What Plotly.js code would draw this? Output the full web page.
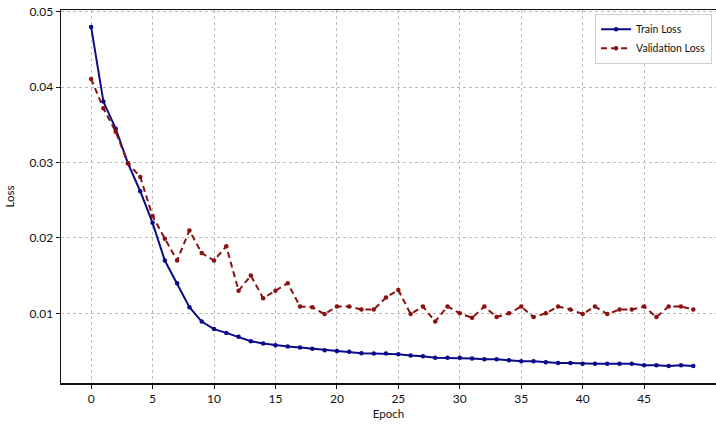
<!DOCTYPE html>
<html>
<head>
<meta charset="utf-8">
<script src="https://cdn.plot.ly/plotly-3.0.1.min.js"></script>
<style>html,body{margin:0;padding:0;background:#fff;}#chart{width:716px;height:424px;}</style>
</head>
<body>
<div id="chart"></div>
<script>
const epochs = Array.from({length: 50}, (_, i) => i);
const trainLoss = [
  0.0480, 0.0381, 0.0345, 0.0299, 0.0262, 0.0220, 0.0170, 0.0140, 0.0108, 0.0089,
  0.0079, 0.0074, 0.0069, 0.0063, 0.0060, 0.00575, 0.0056, 0.00545, 0.0053, 0.0051,
  0.0050, 0.0049, 0.0047, 0.00465, 0.00465, 0.00456, 0.0044, 0.0043, 0.0041, 0.0041,
  0.0041, 0.0040, 0.0039, 0.0039, 0.00376, 0.00363, 0.00363, 0.0035, 0.0034, 0.0034,
  0.0033, 0.0033, 0.0033, 0.0033, 0.0033, 0.0031, 0.0031, 0.0030, 0.0031, 0.0030
];
const valLoss = [
  0.0411, 0.0372, 0.0341, 0.0299, 0.0281, 0.0229, 0.0199, 0.0170, 0.0210, 0.0180,
  0.0170, 0.0189, 0.0130, 0.0150, 0.0120, 0.0130, 0.0140, 0.0109, 0.0108, 0.0099,
  0.0109, 0.0109, 0.0105, 0.0105, 0.0121, 0.0131, 0.0099, 0.0109, 0.0089, 0.0109,
  0.0100, 0.0094, 0.0109, 0.0095, 0.0100, 0.0109, 0.0095, 0.0100, 0.0109, 0.0105,
  0.0099, 0.0109, 0.0099, 0.0105, 0.0105, 0.0109, 0.0095, 0.0109, 0.0109, 0.0105
];
const xTicks = [0, 5, 10, 15, 20, 25, 30, 35, 40, 45];
const yTicks = [0.01, 0.02, 0.03, 0.04, 0.05];

const fontFam = 'Lato, "Noto Sans", sans-serif';
const traces = [
  {
    x: epochs, y: trainLoss, name: 'Train Loss', type: 'scatter', mode: 'lines+markers',
    line: {color: '#0a0a8a', width: 2},
    marker: {color: '#0a0a8a', size: 4.5}
  },
  {
    x: epochs, y: valLoss, name: 'Validation Loss', type: 'scatter', mode: 'lines+markers',
    line: {color: '#8b1010', width: 2, dash: '6px,4px'},
    marker: {color: '#8b1010', size: 4.5}
  }
];
const layout = {
  width: 716, height: 424,
  margin: {l: 61, r: 0, t: 10, b: 41},
  paper_bgcolor: '#fff', plot_bgcolor: '#fff',
  font: {family: fontFam, color: '#111', size: 12},
  showlegend: true,
  legend: {
    x: 0.994, y: 0.99, xanchor: 'right', yanchor: 'top',
    bgcolor: '#fff', bordercolor: '#d0d0d0', borderwidth: 1,
    font: {size: 10.5, family: fontFam},
    tracegroupgap: 0, itemwidth: 30
  },
  xaxis: {
    range: [-2.45, 50.85],
    tickvals: xTicks, ticktext: xTicks.map(String),
    showline: true, linecolor: '#111', linewidth: 1.5, mirror: true,
    ticks: 'outside', ticklen: 4, tickcolor: '#111',
    showgrid: true, gridcolor: '#bbbbbb', griddash: 'dot', gridwidth: 1,
    zeroline: false,
    title: {text: 'Epoch', font: {size: 11.5}, standoff: 5},
    tickfont: {size: 12}
  },
  yaxis: {
    range: [0.00075, 0.05025],
    tickvals: yTicks, ticktext: yTicks.map(v => v.toFixed(2)),
    showline: true, linecolor: '#111', linewidth: 1.5,
    ticks: 'outside', ticklen: 4, tickcolor: '#111',
    showgrid: true, gridcolor: '#bbbbbb', griddash: 'dot', gridwidth: 1,
    zeroline: false,
    title: {text: 'Loss', font: {size: 11.5}, standoff: 12},
    tickfont: {size: 12}
  }
};
Plotly.newPlot('chart', traces, layout, {displayModeBar: false, staticPlot: true});
</script>
</body>
</html>
